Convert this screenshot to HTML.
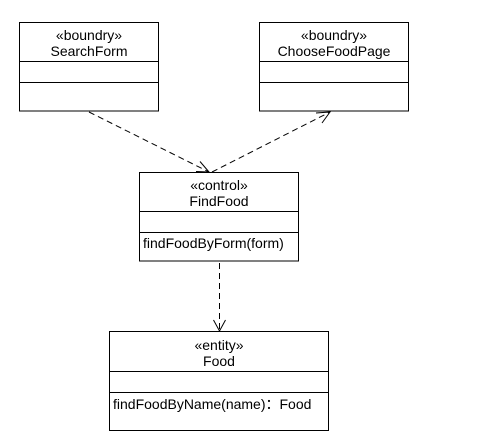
<!DOCTYPE html>
<html><head><style>
html,body{margin:0;padding:0;background:#fff;width:480px;height:448px;overflow:hidden}
</style></head><body>
<svg width="480" height="448" xmlns="http://www.w3.org/2000/svg" font-family="Liberation Sans, Arial, sans-serif" font-size="14" fill="#000">
<g fill="none" stroke="#000" stroke-width="1">
<rect x="19.5" y="22.5" width="139" height="88.5"/>
<line x1="19.5" y1="61.5" x2="158.5" y2="61.5"/><line x1="19.5" y1="82.5" x2="158.5" y2="82.5"/>
<rect x="259.5" y="22.5" width="149" height="88.5"/>
<line x1="259.5" y1="61.5" x2="408.5" y2="61.5"/><line x1="259.5" y1="82.5" x2="408.5" y2="82.5"/>
<rect x="139.5" y="172.5" width="159" height="88.5"/>
<line x1="139.5" y1="211.5" x2="298.5" y2="211.5"/><line x1="139.5" y1="232.5" x2="298.5" y2="232.5"/>
<rect x="109.5" y="331.5" width="219" height="99"/>
<line x1="109.5" y1="371.5" x2="328.5" y2="371.5"/><line x1="109.5" y1="392.5" x2="328.5" y2="392.5"/>
<g stroke-dasharray="6,4">
<line x1="89" y1="112" x2="209" y2="172"/>
<line x1="212" y1="172" x2="330" y2="112"/>
<line x1="219.5" y1="263" x2="219.5" y2="331"/>
</g>
<polyline points="200,161.5 209,172 196,171.5"/>
<polyline points="316,113 330,112 322,123"/>
<polyline points="213.5,320 219.5,331 225.5,320"/>
</g>
<g text-anchor="middle">
<text x="89" y="40">«boundry»</text><text x="89" y="56">SearchForm</text>
<text x="334" y="40">«boundry»</text><text x="334" y="56">ChooseFoodPage</text>
<text x="219" y="190">«control»</text><text x="219" y="206">FindFood</text>
<text x="219" y="350">«entity»</text><text x="219" y="366">Food</text>
</g>
<text x="143" y="248">findFoodByForm(form)</text>
<text x="113" y="409">findFoodByName(name)：Food</text>
</svg>
</body></html>
